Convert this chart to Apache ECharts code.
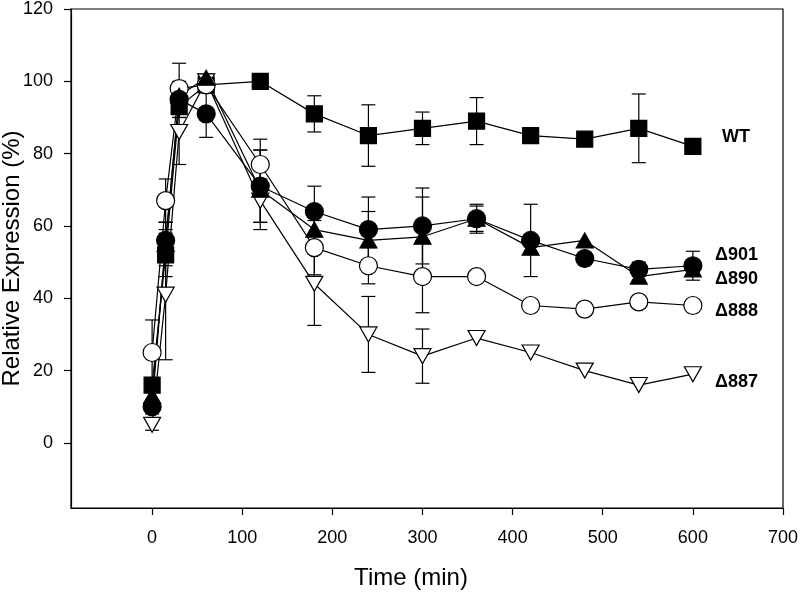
<!DOCTYPE html>
<html>
<head>
<meta charset="utf-8">
<script src="https://cdn.jsdelivr.net/npm/echarts@6/dist/echarts.min.js"></script>
<style>html,body{margin:0;padding:0;background:#fff}#c{width:800px;height:592px}</style>
</head>
<body>
<div id="c"></div>
<script>
const times = [0, 15, 30, 60, 120, 180, 240, 300, 360, 420, 480, 540, 600];
const xTicks = [0, 100, 200, 300, 400, 500, 600, 700];
const yTicks = [0, 20, 40, 60, 80, 100, 120];

const wt      = [16, 52, 93, 99, 100, 91, 85, 87, 89, 85, 84, 87, 82];
const wtErr   = [2, 6, 3, 1, 0, 5, 8.5, 4.5, 6.5, 0, 1, 9.5, 0];
const d901    = [10, 56, 95, 91, 71, 64, 59, 60, 62, 56, 51, 48, 49];
const d901Err = [2, 5, 5, 6.5, 10, 7, 9, 10.5, 4, 10, 0, 2, 4];
const d890    = [13, 55, 96, 101, 70, 59, 56, 57, 62, 54, 56, 46, 48];
const d890Err = [2, 6, 3, 1, 11, 6, 8, 11, 3.5, 0, 0, 1, 0];
const d888    = [25, 67, 98, 99, 77, 54, 49, 46, 46, 38, 37, 39, 38];
const d888Err = [9, 6, 7, 1, 7, 7.5, 5, 10, 0, 0, 0, 0, 0];
const d887    = [5, 41, 86, 100, 67, 44, 30, 24, 29, 25, 20, 16, 19];
const d887Err = [1.5, 18, 9, 1, 6, 11.5, 10.5, 7.5, 0, 0, 0, 0, 0];

const labels = ['WT', '\u0394901', '\u0394890', '\u0394888', '\u0394887'];

const FONT = 'Liberation Sans, Arial, Helvetica, sans-serif';

function errSeries(vals, errs) {
  const data = [];
  times.forEach((t, i) => { if (errs[i] > 0) data.push([t, vals[i] - errs[i], vals[i] + errs[i]]); });
  return {
    type: 'custom', z: 1, silent: true,
    data: data,
    encode: { x: 0, y: [1, 2] },
    renderItem: function (params, api) {
      const lo = api.coord([api.value(0), api.value(1)]);
      const hi = api.coord([api.value(0), api.value(2)]);
      const w = 7;
      const st = { stroke: '#000', lineWidth: 1.2 };
      return { type: 'group', children: [
        { type: 'line', shape: { x1: lo[0], y1: lo[1], x2: hi[0], y2: hi[1] }, style: st },
        { type: 'line', shape: { x1: lo[0] - w, y1: lo[1], x2: lo[0] + w, y2: lo[1] }, style: st },
        { type: 'line', shape: { x1: hi[0] - w, y1: hi[1], x2: hi[0] + w, y2: hi[1] }, style: st }
      ]};
    }
  };
}

function lineSeries(name, vals, symbol, size, fill, rotate) {
  return {
    name: name, type: 'line', z: 3,
    data: times.map((t, i) => [t, vals[i]]),
    symbol: symbol, symbolSize: size, symbolRotate: rotate || 0,
    showAllSymbol: true,
    lineStyle: { color: '#000', width: 1.2 },
    itemStyle: { color: fill, borderColor: '#000', borderWidth: 1.2 },
    emphasis: { disabled: true },
    animation: false
  };
}

const chart = echarts.init(document.getElementById('c'), null, { renderer: 'canvas' });
chart.setOption({
  animation: false,
  backgroundColor: '#fff',
  grid: { left: 71, right: 17, top: 9, bottom: 84, show: true, borderColor: '#000', borderWidth: 1.2, outerBoundsMode: 'none' },
  xAxis: {
    type: 'value', min: -90, max: 700,
    name: 'Time (min)', nameLocation: 'middle', nameGap: 58, nameMoveOverlap: false,
    nameTextStyle: { fontFamily: FONT, fontSize: 24, color: '#000', padding: [0, 32, 0, 0] },
    axisLine: { show: true, onZero: false, lineStyle: { color: '#000', width: 1.2 } },
    axisTick: { show: true, length: 7, inside: false, customValues: xTicks, lineStyle: { color: '#000', width: 1.2 } },
    axisLabel: { customValues: xTicks, margin: 21, fontFamily: FONT, fontSize: 18, color: '#000' },
    splitLine: { show: false }
  },
  yAxis: {
    type: 'value', min: -18, max: 120,
    name: 'Relative Expression (%)', nameLocation: 'middle', nameGap: 47, nameMoveOverlap: false,
    nameTextStyle: { fontFamily: FONT, fontSize: 24, color: '#000' },
    axisLine: { show: true, onZero: false, lineStyle: { color: '#000', width: 1.2 } },
    axisTick: { show: true, length: 7, inside: false, customValues: yTicks, lineStyle: { color: '#000', width: 1.2 } },
    axisLabel: { customValues: yTicks, margin: 18, fontFamily: FONT, fontSize: 18, color: '#000' },
    splitLine: { show: false }
  },
  series: [
    errSeries(wt, wtErr),
    errSeries(d901, d901Err),
    errSeries(d890, d890Err),
    errSeries(d888, d888Err),
    errSeries(d887, d887Err),
    lineSeries(labels[0], wt, 'rect', 16, '#000'),
    lineSeries(labels[4], d887, 'triangle', [17, 15], '#fff', 180),
    lineSeries(labels[3], d888, 'circle', 18, '#fff'),
    lineSeries(labels[2], d890, 'triangle', [17, 15], '#000'),
    lineSeries(labels[1], d901, 'circle', 18, '#000')
  ],
  graphic: [
    { type: 'text', x: 722, y: 137, style: { text: labels[0], font: 'bold 18px ' + FONT, fill: '#000', verticalAlign: 'middle' } },
    { type: 'text', x: 715, y: 255, style: { text: labels[1], font: 'bold 18px ' + FONT, fill: '#000', verticalAlign: 'middle' } },
    { type: 'text', x: 715, y: 279, style: { text: labels[2], font: 'bold 18px ' + FONT, fill: '#000', verticalAlign: 'middle' } },
    { type: 'text', x: 715, y: 311, style: { text: labels[3], font: 'bold 18px ' + FONT, fill: '#000', verticalAlign: 'middle' } },
    { type: 'text', x: 715, y: 382, style: { text: labels[4], font: 'bold 18px ' + FONT, fill: '#000', verticalAlign: 'middle' } }
  ]
});
</script>
</body>
</html>
